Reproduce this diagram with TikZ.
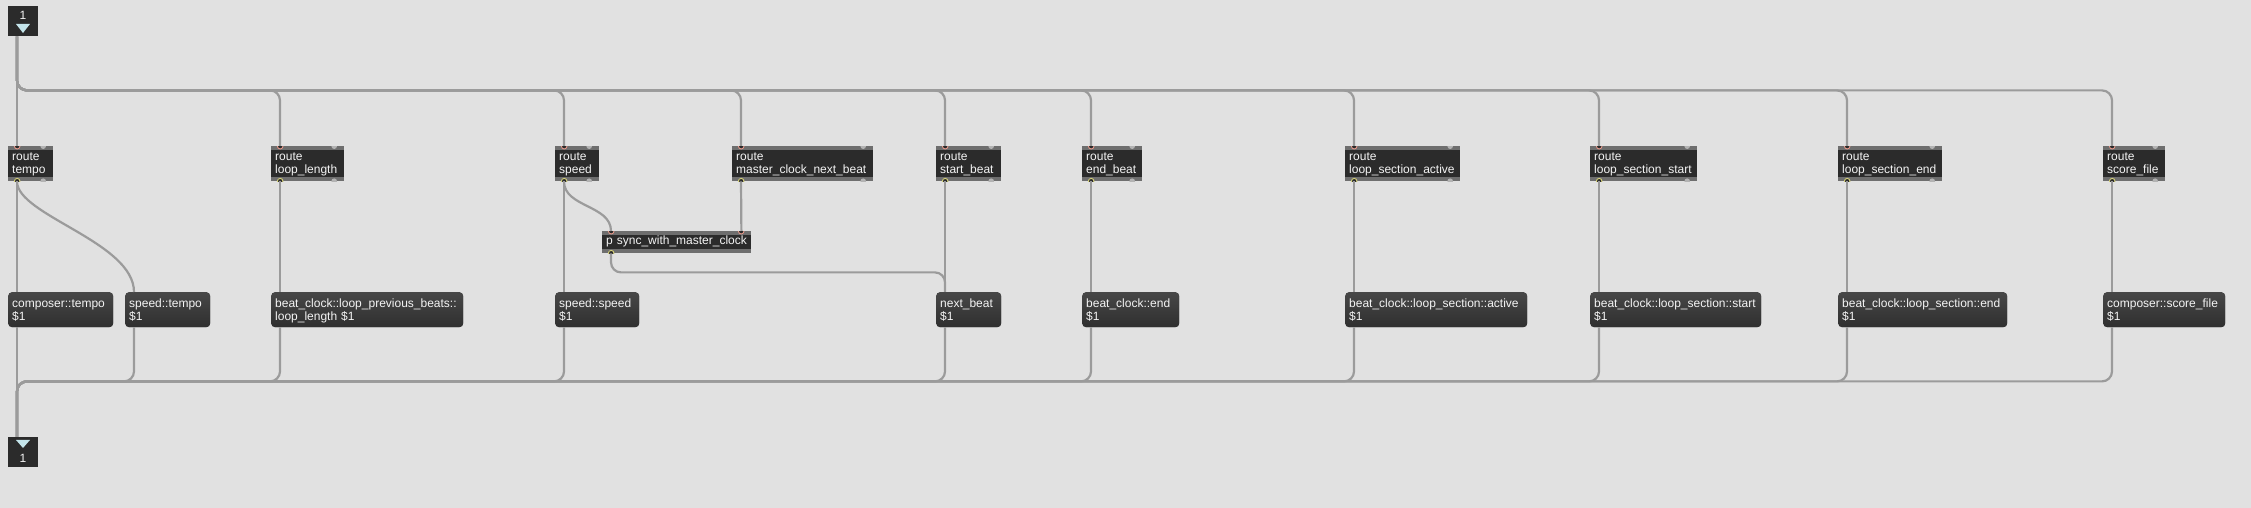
\documentclass[tikz,border=0pt]{standalone}
\usepackage{fontspec}
\setmainfont{Liberation Sans}
\definecolor{patchbg}{HTML}{E1E1E1}
\definecolor{cordgray}{HTML}{9B9B9B}
\definecolor{objbody}{HTML}{2B2B2B}
\definecolor{objstrip}{HTML}{6E6E6E}
\definecolor{objtext}{HTML}{F4F4F4}
\definecolor{msgtop}{HTML}{474747}
\definecolor{msgbottom}{HTML}{2F2F2F}
\definecolor{inletred}{HTML}{E89A8C}
\definecolor{outletyellow}{HTML}{D6D27A}
\definecolor{portgray}{HTML}{B3B3B3}
\definecolor{iotri}{HTML}{C4E5EB}
\newcommand{\maxfont}{\fontsize{12bp}{13bp}\selectfont}
\tikzset{
  cord/.style={draw=cordgray,line width=2.2bp,line cap=butt,rounded corners=10bp},
  obj_box/.style={fill=objbody,text=objtext,font=\maxfont,align=left,anchor=north west,inner xsep=4bp,inner ysep=0bp},
  port_in/.style={fill=objbody,draw=inletred,line width=0.9bp},
  port_out/.style={fill=objbody,draw=outletyellow,line width=0.9bp},
  port_off/.style={fill=portgray},
  route/.style={obj_box,minimum height=35bp,text width=#1,text height=9.5bp,text depth=15.5bp,
    path picture={
      \fill[objstrip] (path picture bounding box.north west) rectangle ([yshift=-4bp]path picture bounding box.north east);
      \fill[objstrip] (path picture bounding box.south west) rectangle ([yshift=4bp]path picture bounding box.south east);
      \path[port_in] ([xshift=9bp]path picture bounding box.north west) circle (2.8bp);
      \path[port_off] ([xshift=-10bp]path picture bounding box.north east) circle (2.8bp);
      \path[port_out] ([xshift=9bp]path picture bounding box.south west) circle (2.8bp);
      \path[port_off] ([xshift=-10bp]path picture bounding box.south east) circle (2.8bp);
    }},
  subpatch/.style={obj_box,minimum height=22bp,text width=#1,text height=7.5bp,text depth=2.5bp,
    path picture={
      \fill[objstrip] (path picture bounding box.north west) rectangle ([yshift=-4bp]path picture bounding box.north east);
      \fill[objstrip] (path picture bounding box.south west) rectangle ([yshift=4bp]path picture bounding box.south east);
      \path[port_in] ([xshift=9bp]path picture bounding box.north west) circle (2.8bp);
      \path[port_in] ([xshift=-10bp]path picture bounding box.north east) circle (2.8bp);
      \path[port_out] ([xshift=9bp]path picture bounding box.south west) circle (2.8bp);
    }},
  message/.style={obj_box,rounded corners=4bp,top color=msgtop,bottom color=msgbottom,minimum height=35bp,text width=#1,text height=10.5bp,text depth=15.5bp},
  io_box/.style={fill=objbody,minimum width=30bp,minimum height=30bp,anchor=north west,inner sep=0bp},
  io_num/.style={text=objtext,font=\maxfont,anchor=base,inner sep=0bp},
}
\begin{document}
\begin{tikzpicture}[>=latex,line join=round]
%%
\fill [patchbg] (0bp,0bp) rectangle (2251bp,508bp);
%% inlet and outlet
\node (inlet_1) at (8bp,502bp) [io_box] {};
  \node (inlet_1_num) at (23bp,488bp) [io_num] {1};
  \fill [iotri] (16bp,484bp) -- (30bp,484bp) -- (23bp,475bp) -- cycle;
\node (outlet_1) at (8bp,71bp) [io_box] {};
  \node (outlet_1_num) at (23bp,45bp) [io_num] {1};
  \fill [iotri] (16bp,68bp) -- (30bp,68bp) -- (23bp,60bp) -- cycle;
%% route objects
\node (route_tempo) at (8bp,362bp) [route=37bp] {route\\tempo};
  \node (route_loop_length) at (271bp,362bp) [route=65bp] {route\\loop\_length};
  \node (route_speed) at (555bp,362bp) [route=36bp] {route\\speed};
  \node (route_master_clock_next_beat) at (732bp,362bp) [route=133bp] {route\\master\_clock\_next\_beat};
  \node (route_start_beat) at (936bp,362bp) [route=57bp] {route\\start\_beat};
  \node (route_end_beat) at (1082bp,362bp) [route=52bp] {route\\end\_beat};
  \node (route_loop_section_active) at (1345bp,362bp) [route=107bp] {route\\loop\_section\_active};
  \node (route_loop_section_start) at (1590bp,362bp) [route=99bp] {route\\loop\_section\_start};
  \node (route_loop_section_end) at (1838bp,362bp) [route=96bp] {route\\loop\_section\_end};
  \node (route_score_file) at (2103bp,362bp) [route=54bp] {route\\score\_file};
\node (p_sync_with_master_clock) at (602bp,277bp) [subpatch=141bp] {p sync\_with\_master\_clock};
%% message boxes
\node (msg_composer_tempo) at (8bp,216bp) [message=97bp] {composer::tempo\\\$1};
  \node (msg_speed_tempo) at (125bp,216bp) [message=77bp] {speed::tempo\\\$1};
  \node (msg_loop_previous_beats) at (271bp,216bp) [message=184bp] {beat\_clock::loop\_previous\_beats::\\loop\_length \$1};
  \node (msg_speed_speed) at (555bp,216bp) [message=76bp] {speed::speed\\\$1};
  \node (msg_next_beat) at (936bp,216bp) [message=57bp] {next\_beat\\\$1};
  \node (msg_beat_clock_end) at (1082bp,216bp) [message=89bp] {beat\_clock::end\\\$1};
  \node (msg_loop_section_active) at (1345bp,216bp) [message=174bp] {beat\_clock::loop\_section::active\\\$1};
  \node (msg_loop_section_start) at (1590bp,216bp) [message=163bp] {beat\_clock::loop\_section::start\\\$1};
  \node (msg_loop_section_end) at (1838bp,216bp) [message=161bp] {beat\_clock::loop\_section::end\\\$1};
  \node (msg_composer_score_file) at (2103bp,216bp) [message=114bp] {composer::score\_file\\\$1};
%% inlet to routes
\draw [cord] ([xshift=9bp]inlet_1.south west) -- ([xshift=9bp]route_tempo.north west);
  \draw [cord] ([xshift=9bp]inlet_1.south west) -- ++(0bp,-54bp) -| ([xshift=9bp]route_loop_length.north west);
  \draw [cord] ([xshift=9bp]inlet_1.south west) -- ++(0bp,-54bp) -| ([xshift=9bp]route_speed.north west);
  \draw [cord] ([xshift=9bp]inlet_1.south west) -- ++(0bp,-54bp) -| ([xshift=9bp]route_master_clock_next_beat.north west);
  \draw [cord] ([xshift=9bp]inlet_1.south west) -- ++(0bp,-54bp) -| ([xshift=9bp]route_start_beat.north west);
  \draw [cord] ([xshift=9bp]inlet_1.south west) -- ++(0bp,-54bp) -| ([xshift=9bp]route_end_beat.north west);
  \draw [cord] ([xshift=9bp]inlet_1.south west) -- ++(0bp,-54bp) -| ([xshift=9bp]route_loop_section_active.north west);
  \draw [cord] ([xshift=9bp]inlet_1.south west) -- ++(0bp,-54bp) -| ([xshift=9bp]route_loop_section_start.north west);
  \draw [cord] ([xshift=9bp]inlet_1.south west) -- ++(0bp,-54bp) -| ([xshift=9bp]route_loop_section_end.north west);
  \draw [cord] ([xshift=9bp]inlet_1.south west) -- ++(0bp,-54bp) -| ([xshift=9bp]route_score_file.north west);
%% routes to messages
\draw [cord] ([xshift=9bp]route_tempo.south west) -- ([xshift=9bp]msg_composer_tempo.north west);
  \draw [cord] ([xshift=9bp]route_tempo.south west) ..controls +(0bp,-34bp) and +(0bp,50bp) .. ([xshift=9bp]msg_speed_tempo.north west);
  \draw [cord] ([xshift=9bp]route_loop_length.south west) -- ([xshift=9bp]msg_loop_previous_beats.north west);
  \draw [cord] ([xshift=9bp]route_speed.south west) -- ([xshift=9bp]msg_speed_speed.north west);
  \draw [cord] ([xshift=9bp]route_speed.south west) ..controls +(0bp,-26bp) and +(0bp,26bp) .. ([xshift=9bp]p_sync_with_master_clock.north west);
  \draw [cord] ([xshift=9bp]route_master_clock_next_beat.south west) -- ([xshift=-10bp]p_sync_with_master_clock.north east);
  \draw [cord] ([xshift=9bp]p_sync_with_master_clock.south west) -- ++(0bp,-19bp) -| ([xshift=9bp]msg_next_beat.north west);
  \draw [cord] ([xshift=9bp]route_start_beat.south west) -- ([xshift=9bp]msg_next_beat.north west);
  \draw [cord] ([xshift=9bp]route_end_beat.south west) -- ([xshift=9bp]msg_beat_clock_end.north west);
  \draw [cord] ([xshift=9bp]route_loop_section_active.south west) -- ([xshift=9bp]msg_loop_section_active.north west);
  \draw [cord] ([xshift=9bp]route_loop_section_start.south west) -- ([xshift=9bp]msg_loop_section_start.north west);
  \draw [cord] ([xshift=9bp]route_loop_section_end.south west) -- ([xshift=9bp]msg_loop_section_end.north west);
  \draw [cord] ([xshift=9bp]route_score_file.south west) -- ([xshift=9bp]msg_composer_score_file.north west);
%% messages to outlet
\draw [cord] ([xshift=9bp]msg_composer_tempo.south west) -- ([xshift=9bp]outlet_1.north west);
  \draw [cord] ([xshift=9bp]msg_speed_tempo.south west) -- ++(0bp,-54bp) -| ([xshift=9bp]outlet_1.north west);
  \draw [cord] ([xshift=9bp]msg_loop_previous_beats.south west) -- ++(0bp,-54bp) -| ([xshift=9bp]outlet_1.north west);
  \draw [cord] ([xshift=9bp]msg_speed_speed.south west) -- ++(0bp,-54bp) -| ([xshift=9bp]outlet_1.north west);
  \draw [cord] ([xshift=9bp]msg_next_beat.south west) -- ++(0bp,-54bp) -| ([xshift=9bp]outlet_1.north west);
  \draw [cord] ([xshift=9bp]msg_beat_clock_end.south west) -- ++(0bp,-54bp) -| ([xshift=9bp]outlet_1.north west);
  \draw [cord] ([xshift=9bp]msg_loop_section_active.south west) -- ++(0bp,-54bp) -| ([xshift=9bp]outlet_1.north west);
  \draw [cord] ([xshift=9bp]msg_loop_section_start.south west) -- ++(0bp,-54bp) -| ([xshift=9bp]outlet_1.north west);
  \draw [cord] ([xshift=9bp]msg_loop_section_end.south west) -- ++(0bp,-54bp) -| ([xshift=9bp]outlet_1.north west);
  \draw [cord] ([xshift=9bp]msg_composer_score_file.south west) -- ++(0bp,-54bp) -| ([xshift=9bp]outlet_1.north west);
%
\end{tikzpicture}
\end{document}
